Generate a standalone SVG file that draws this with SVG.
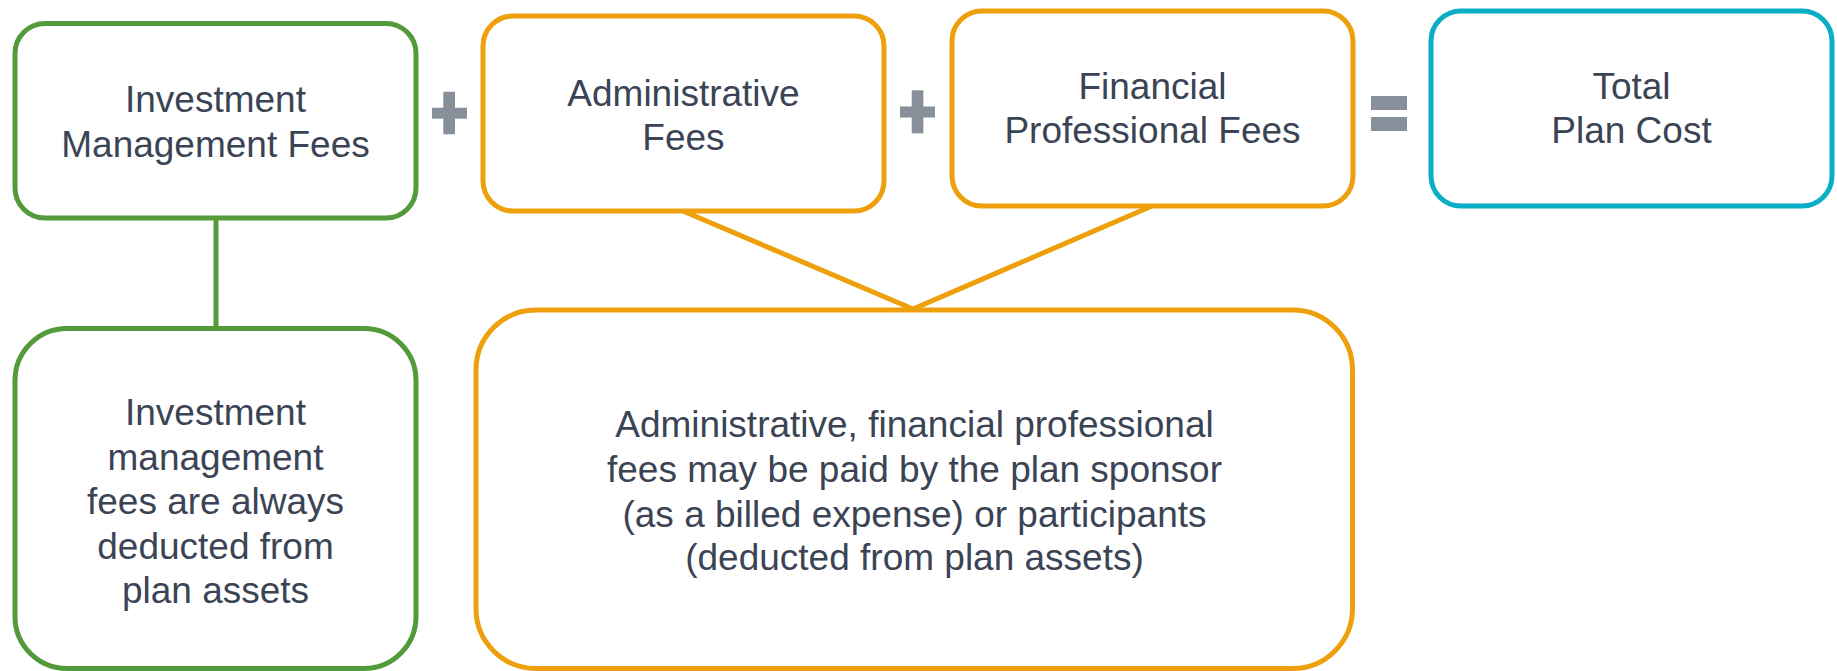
<svg xmlns="http://www.w3.org/2000/svg" width="1837" height="671" viewBox="0 0 1837 671">
<style>
  .box { fill: #ffffff; stroke-width: 5; }
  .green { stroke: #539A3A; }
  .orange { stroke: #EDA00C; }
  .teal { stroke: #0AAFC6; }
  .txt { font-family: "Liberation Sans", Arial, sans-serif; font-size: 37px; fill: #3A4454; text-anchor: middle; }
  .op { fill: #87909A; }
  .conn { fill: none; stroke-width: 5; }
</style>
<rect width="1837" height="671" fill="#ffffff"/>
<g id="connectors">
  <line class="conn green" x1="216" y1="218" x2="216" y2="328"/>
  <polyline class="conn orange" points="683,211 913,309 1152,206" stroke-linejoin="miter"/>
</g>
<g id="investment-fees">
  <rect class="box green" x="15" y="23.5" width="401" height="194.5" rx="30"/>
  <text class="txt" x="215.5" y="111.7">Investment</text>
  <text class="txt" x="215.5" y="156.7">Management Fees</text>
</g>
<g id="plus-1">
  <rect class="op" x="432" y="107.7" width="35" height="11"/>
  <rect class="op" x="443.3" y="91.7" width="11.7" height="42.6"/>
</g>
<g id="admin-fees">
  <rect class="box orange" x="483" y="16" width="401" height="195" rx="30"/>
  <text class="txt" x="683.5" y="106">Administrative</text>
  <text class="txt" x="683.5" y="150">Fees</text>
</g>
<g id="plus-2">
  <rect class="op" x="900" y="106.5" width="35" height="11"/>
  <rect class="op" x="911.7" y="90.3" width="11.7" height="43"/>
</g>
<g id="financial-fees">
  <rect class="box orange" x="952" y="11" width="401" height="195" rx="30"/>
  <text class="txt" x="1152.5" y="99.3">Financial</text>
  <text class="txt" x="1152.5" y="143.3">Professional Fees</text>
</g>
<g id="equals">
  <rect class="op" x="1371" y="96" width="36" height="14"/>
  <rect class="op" x="1371" y="117" width="36" height="14"/>
</g>
<g id="total-cost">
  <rect class="box teal" x="1431" y="11" width="401" height="195" rx="30"/>
  <text class="txt" x="1631.5" y="99.3">Total</text>
  <text class="txt" x="1631.5" y="143.3">Plan Cost</text>
</g>
<g id="investment-note">
  <rect class="box green" x="15" y="328.5" width="401" height="340" rx="52"/>
  <text class="txt" x="215.5" y="425">Investment</text>
  <text class="txt" x="215.5" y="470">management</text>
  <text class="txt" x="215.5" y="514">fees are always</text>
  <text class="txt" x="215.5" y="558.5">deducted from</text>
  <text class="txt" x="215.5" y="603">plan assets</text>
</g>
<g id="admin-note">
  <rect class="box orange" x="476" y="310" width="876.5" height="358.5" rx="60"/>
  <text class="txt" x="914.5" y="436.7">Administrative, financial professional</text>
  <text class="txt" x="914.5" y="481.7">fees may be paid by the plan sponsor</text>
  <text class="txt" x="914.5" y="526.7">(as a billed expense) or participants</text>
  <text class="txt" x="914.5" y="570">(deducted from plan assets)</text>
</g>
</svg>
